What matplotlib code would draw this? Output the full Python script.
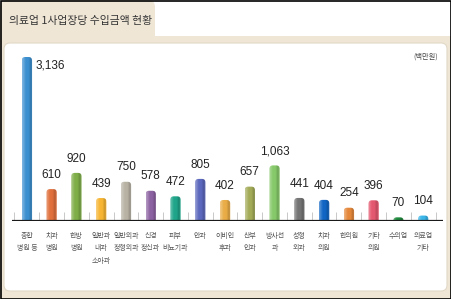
import matplotlib
matplotlib.use('Agg')
import matplotlib.pyplot as plt
import matplotlib.patches as mpatches
import matplotlib.colors as mcolors
import numpy as np

# data (unit: 백만원)
categories = ['종합\n병원 등', '치과\n병원', '한방\n병원', '일반과\n내과\n소아과', '일반외과\n정형외과',
              '신경\n정신과', '피부\n비뇨기과', '안과', '이비인\n후과', '산부\n인과', '방사선\n과',
              '성형\n외과', '치과\n의원', '한의원', '기타\n의원', '수의업', '의료업\n기타']
values = [3136, 610, 920, 439, 750, 578, 472, 805, 402, 657, 1063, 441, 404, 254, 396, 70, 104]
bar_colors = ['#3b8fcf', '#e0703c', '#7fae48', '#f7b532', '#b8b2a4', '#8c62a2', '#1fa58a',
              '#5b68bd', '#e9ac46', '#a3ab58', '#86c96a', '#747474', '#1166c4', '#e4873a',
              '#e4586f', '#1e8a3c', '#3ab5e8']
title = '의료업 1사업장당 수입금액 현황'
unit = '(백만원)'

KR = ['Noto Sans CJK KR', 'DejaVu Sans']
NUM = ['Liberation Sans Narrow', 'Liberation Sans', 'DejaVu Sans']

W, H = 452, 299
fig = plt.figure(figsize=(W / 100, H / 100), dpi=100)
fig.patch.set_facecolor('white')

# background frame drawn in pixel coordinates
bg = fig.add_axes([0, 0, 1, 1])
bg.set_xlim(0, W)
bg.set_ylim(H, 0)
bg.axis('off')
beige = '#efe6d6'
bg.add_patch(mpatches.Rectangle((0, 36), W, H - 36, color=beige, lw=0))
bg.add_patch(mpatches.FancyBboxPatch((0, 0), 155, 48, boxstyle='round,pad=0,rounding_size=7',
                                     fc=beige, ec='none'))
bg.add_patch(mpatches.FancyBboxPatch((4, 43), 443, 248, boxstyle='round,pad=0,rounding_size=6',
                                     fc='white', ec='#e2d8c6', lw=0.8))
bg.add_patch(mpatches.Rectangle((0.5, 0.5), W - 1, H - 1, fill=False, ec='black', lw=1.2))
bg.text(9, 21, title, fontsize=7.8, family=KR, color='#333333', va='center', ha='left')
bg.text(438, 57, unit, fontsize=5.2, family=KR, color='#444444', va='center', ha='right')

# chart area
x0, x1 = 12, 443
base_y, top_y = 221, 43
ax = fig.add_axes([x0 / W, 1 - base_y / H, (x1 - x0) / W, (base_y - top_y) / H])
ax.patch.set_alpha(0)
for s in ax.spines.values():
    s.set_visible(False)

x = np.arange(len(values))
ymax = 3136 * (base_y - top_y) / (221 - 57)
bars = ax.bar(x, values, width=0.42, color=bar_colors, zorder=2)

px_x = (len(values) - 0.6 + 0.8) / (x1 - x0)
px_y = ymax / (base_y - top_y)
for rect, c in zip(bars, bar_colors):
    rect.set_visible(False)
    bx, bw, bh = rect.get_x(), rect.get_width(), rect.get_height()
    r = 3.5 * px_x
    clip = mpatches.FancyBboxPatch((bx, -10 * px_y), bw, bh + 10 * px_y,
                                   boxstyle=f'round,pad=0,rounding_size={r}',
                                   mutation_aspect=px_y / px_x, fc='none', ec='none')
    ax.add_patch(clip)
    rgb = np.array(mcolors.to_rgb(c))
    light = rgb + (1 - rgb) * 0.35
    dark = rgb * 0.8
    stops = [light, rgb, rgb, dark, rgb + (1 - rgb) * 0.15]
    pos = [0.0, 0.35, 0.6, 0.85, 1.0]
    t = np.linspace(0, 1, 24)
    grad = np.stack([np.interp(t, pos, [s[k] for s in stops]) for k in range(3)], axis=-1)
    im = ax.imshow(grad[None, :, :], extent=(bx, bx + bw, 0, bh), aspect='auto',
                   interpolation='bilinear', zorder=2)
    im.set_clip_path(clip)

for i, (xi, v) in enumerate(zip(x, values)):
    if i == 0:
        # the tallest bar carries its label beside the top
        ax.annotate(f'{v:,}', (xi, v), xytext=(6, -2), textcoords='offset points',
                    ha='left', va='top', fontsize=8.5, family=NUM, color='#222222')
    else:
        ax.annotate(f'{v:,}', (xi, v), xytext=(0, 6), textcoords='offset points',
                    ha='center', va='bottom', fontsize=8.5, family=NUM, color='#222222')

# small separators and baseline
ax.vlines(np.arange(len(values) + 1) - 0.5, 0, 9 * px_y, color='#c8c8c8', lw=0.7, zorder=1)
ax.axhline(0, color='#1a1a1a', lw=1.6, zorder=3)

ax.set_xlim(-0.6, len(values) - 1 + 0.8)
ax.set_ylim(0, ymax)
ax.set_yticks([])
ax.set_xticks(x)
ax.set_xticklabels(categories, fontsize=5.0, family=KR, color='#555555', linespacing=1.7)
ax.tick_params(axis='x', length=0, pad=8)

fig.savefig('out.png', dpi=100)
